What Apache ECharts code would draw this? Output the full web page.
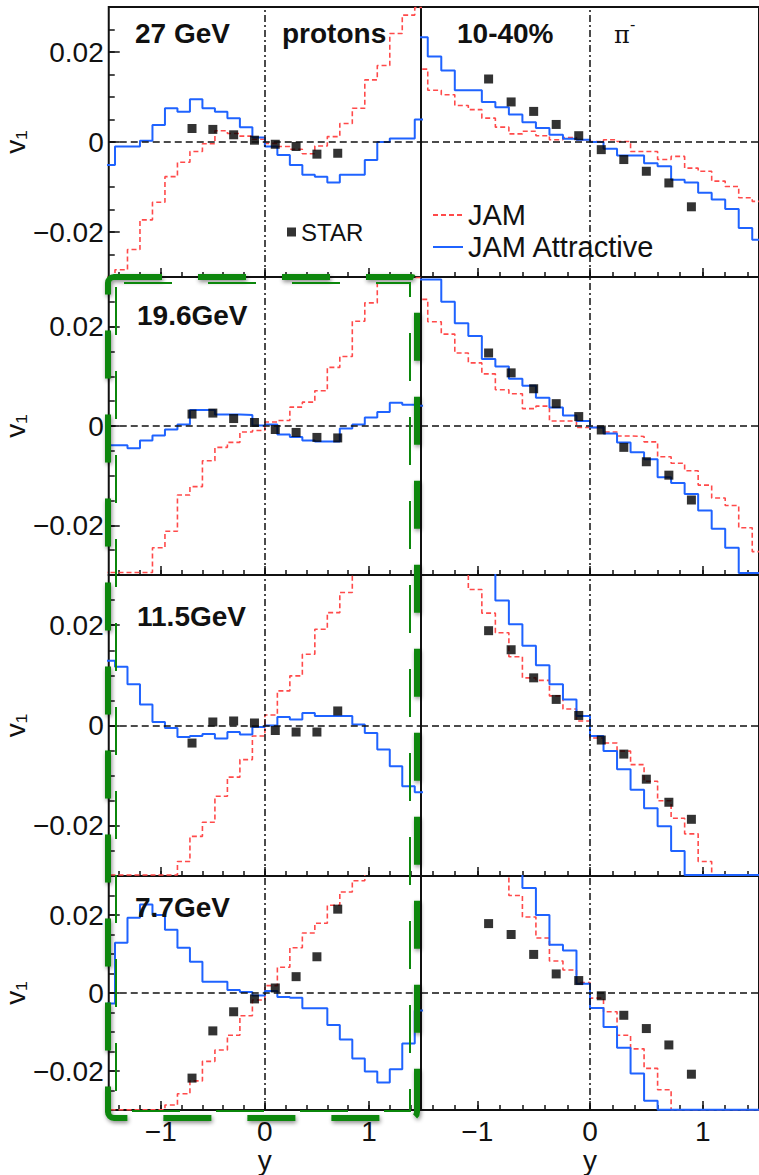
<!DOCTYPE html>
<html>
<head>
<meta charset="utf-8">
<title>v1 vs y, JAM vs STAR</title>
<script src="https://cdn.jsdelivr.net/npm/echarts@6/dist/echarts.min.js"></script>
<style>
	html, body { margin: 0; padding: 0; background: #fff; }
	#main { width: 759px; height: 1175px; }
</style>
</head>
<body>
<div id="main"></div>
<script>
// histogram bin edges in rapidity (0.12 wide)
var binEdges = [-1.56, -1.44, -1.32, -1.2, -1.08, -0.96, -0.84, -0.72, -0.6, -0.48, -0.36, -0.24, -0.12,
	0, 0.12, 0.24, 0.36, 0.48, 0.6, 0.72, 0.84, 0.96, 1.08, 1.2, 1.32, 1.44, 1.56];
var protonStarX = [-0.7, -0.5, -0.3, -0.1, 0.1, 0.3, 0.5, 0.7];
var pionStarX = [-0.9, -0.7, -0.5, -0.3, -0.1, 0.1, 0.3, 0.5, 0.7, 0.9];

// tick positions / labels
var xTickValues = [-1.4, -1.2, -1, -0.8, -0.6, -0.4, -0.2, 0, 0.2, 0.4, 0.6, 0.8, 1, 1.2, 1.4];
var xLabelValues = [-1, 0, 1];
var yTickValues = [-0.025, -0.02, -0.015, -0.01, -0.005, 0, 0.005, 0.01, 0.015, 0.02, 0.025];
var yLabelValues = [-0.02, 0, 0.02];

// 27 GeV
var jam27p = [-0.0299, -0.0284, -0.0239, -0.0173, -0.0134, -0.0077, -0.0045, -0.0021, -0.0004, 0.0025, 0.0019, 0.0013, 0.0006,
	-0.0003, -0.001, -0.0016, -0.0026, -0.0009, 0.0012, 0.0041, 0.0075, 0.0138, 0.017, 0.0241, 0.0282, 0.0299];
var att27p = [-0.0051, -0.001, -0.001, 0.0003, 0.0038, 0.0075, 0.0067, 0.0095, 0.0075, 0.0067, 0.0053, 0.0033, 0.001,
	-0.001, -0.0029, -0.0051, -0.0073, -0.0077, -0.009, -0.0073, -0.0073, -0.004, 0, 0.0008, 0.0008, 0.005];
var star27p = [0.003, 0.0028, 0.0016, 0.0004, -0.0005, -0.001, -0.0027, -0.0025];
var jam27pi = [0.0162, 0.0115, 0.0105, 0.0081, 0.0072, 0.0053, 0.0033, 0.0018, 0.0024, 0.0014, 0.0005, 0.001, 0.0005,
	0.0001, 0.0005, 0.0001, -0.0021, -0.0021, -0.0039, -0.0032, -0.0058, -0.0065, -0.0087, -0.0099, -0.0124, -0.0132];
var att27pi = [0.0233, 0.019, 0.0159, 0.0115, 0.0115, 0.0089, 0.0077, 0.0061, 0.0044, 0.0031, 0.0016, 0.0007, 0.0005,
	0, -0.0015, -0.003, -0.003, -0.0047, -0.0054, -0.0084, -0.009, -0.0113, -0.0128, -0.0149, -0.0191, -0.0217];
var star27pi = [0.014, 0.0089, 0.0068, 0.0039, 0.0014, -0.0017, -0.0039, -0.0065, -0.0091, -0.0144];

// 19.6 GeV
var jam19p = [-0.0295, -0.0295, -0.0295, -0.0295, -0.0245, -0.0212, -0.0139, -0.0122, -0.007, -0.0043, -0.0033, -0.0012, -0.0009,
	0.0008, 0.0011, 0.0038, 0.0048, 0.0071, 0.0118, 0.014, 0.0211, 0.0248, 0.0299, 0.0299, 0.0299, 0.0299];
var att19p = [-0.0039, -0.0039, -0.0045, -0.0029, -0.0019, -0.0007, 0.0003, 0.0032, 0.0032, 0.0023, 0.0023, 0.0022, 0.0001,
	0.0003, -0.0017, -0.0022, -0.0029, -0.0031, -0.0031, -0.0005, 0.0003, 0.0017, 0.0028, 0.0047, 0.0043, 0.0041];
var star19p = [0.0024, 0.0026, 0.0015, 0.0007, -0.0007, -0.0013, -0.0023, -0.0024];
var jam19pi = [0.0255, 0.021, 0.0185, 0.0147, 0.0127, 0.0105, 0.0073, 0.0065, 0.0035, 0.004, 0.001, 0.001, -0.0003,
	-0.0003, -0.0012, -0.002, -0.0021, -0.0032, -0.0062, -0.0075, -0.009, -0.0119, -0.0145, -0.016, -0.0205, -0.0253];
var att19pi = [0.0295, 0.0295, 0.025, 0.0207, 0.0181, 0.0135, 0.012, 0.0095, 0.0081, 0.0057, 0.0037, 0.0021, 0.001,
	-0.0003, -0.0015, -0.0033, -0.0053, -0.0067, -0.0103, -0.0115, -0.0137, -0.017, -0.0207, -0.0245, -0.0296, -0.0296];
var star19pi = [0.0147, 0.0107, 0.0075, 0.0045, 0.0019, -0.0008, -0.0043, -0.0072, -0.0099, -0.0149];

// 11.5 GeV
var jam11p = [-0.0298, -0.0298, -0.0298, -0.0298, -0.0298, -0.0298, -0.0271, -0.0221, -0.0193, -0.0141, -0.0103, -0.0068, -0.0021,
	0.0021, 0.0069, 0.0099, 0.0142, 0.0192, 0.0225, 0.0265, 0.032, 0.032, 0.032, 0.032, 0.032, 0.032];
var att11p = [0.0129, 0.0117, 0.0082, 0.0042, 0.0007, -0.0005, -0.0023, -0.0021, -0.0017, -0.0026, -0.0013, -0.0018, -0.0003,
	0, 0.0017, 0.0012, 0.0025, 0.0019, 0.0019, 0.0019, 0.0002, -0.0015, -0.0048, -0.0081, -0.0121, -0.0133];
var star11p = [-0.0035, 0.0007, 0.0009, 0.0005, -0.001, -0.0013, -0.0013, 0.0029];
var jam11pi = [0.032, 0.032, 0.032, 0.032, 0.0271, 0.0224, 0.0185, 0.0137, 0.0095, 0.009, 0.0059, 0.0033, 0.0009,
	-0.0025, -0.0035, -0.0051, -0.0078, -0.0111, -0.015, -0.0185, -0.0216, -0.0271, -0.0298, -0.0298, -0.0298, -0.0298];
var att11pi = [0.032, 0.032, 0.032, 0.032, 0.032, 0.032, 0.0249, 0.0202, 0.0159, 0.012, 0.0082, 0.0052, 0.0019,
	-0.0021, -0.0051, -0.0087, -0.0128, -0.0165, -0.0201, -0.025, -0.0298, -0.0298, -0.0298, -0.0298, -0.0298, -0.0298];
var star11pi = [0.0189, 0.0151, 0.0095, 0.0052, 0.002, -0.0029, -0.0057, -0.0107, -0.0153, -0.0187];

// 7.7 GeV
var jam7p = [-0.0299, -0.0299, -0.0299, -0.0299, -0.0299, -0.0287, -0.0258, -0.0225, -0.0175, -0.0146, -0.0108, -0.0058, -0.0018,
	0.0019, 0.0066, 0.0116, 0.0154, 0.0179, 0.0225, 0.0259, 0.0288, 0.032, 0.032, 0.032, 0.032, 0.032];
var att7p = [-0.0027, 0.0129, 0.0193, 0.0227, 0.02, 0.0162, 0.0116, 0.008, 0.0029, 0.0029, 0.0008, 0.0003, -0.0006,
	0.0005, -0.001, -0.0012, -0.0039, -0.0039, -0.0082, -0.0119, -0.0168, -0.0201, -0.0229, -0.0195, -0.0129, -0.0045];
var star7p = [-0.0218, -0.0097, -0.0048, -0.0015, 0.0013, 0.0042, 0.0093, 0.0215];
var jam7pi = [0.032, 0.032, 0.032, 0.032, 0.032, 0.032, 0.032, 0.025, 0.0195, 0.0141, 0.0082, 0.0059, 0.0027,
	-0.0013, -0.0048, -0.0108, -0.0143, -0.0193, -0.0248, -0.0299, -0.0299, -0.0299, -0.0299, -0.0299, -0.0299, -0.0299];
var att7pi = [0.032, 0.032, 0.032, 0.032, 0.032, 0.032, 0.032, 0.032, 0.0269, 0.02, 0.0124, 0.0109, 0.0024,
	-0.0038, -0.0087, -0.014, -0.0206, -0.0276, -0.0299, -0.0299, -0.0299, -0.0299, -0.0299, -0.0299, -0.0299, -0.0299];
var star7pi = [0.0178, 0.015, 0.0099, 0.0049, 0.0032, -0.0007, -0.0057, -0.0091, -0.0133, -0.0208];

var panels = [
	{ jam: jam27p, att: att27p, star: star27p, starX: protonStarX },
	{ jam: jam27pi, att: att27pi, star: star27pi, starX: pionStarX },
	{ jam: jam19p, att: att19p, star: star19p, starX: protonStarX },
	{ jam: jam19pi, att: att19pi, star: star19pi, starX: pionStarX },
	{ jam: jam11p, att: att11p, star: star11p, starX: protonStarX },
	{ jam: jam11pi, att: att11pi, star: star11pi, starX: pionStarX },
	{ jam: jam7p, att: att7p, star: star7p, starX: protonStarX },
	{ jam: jam7pi, att: att7pi, star: star7pi, starX: pionStarX }
];

// layout (pixels)
var colLeft = [104, 421];
var colWidth = [317, 344];
var rowTop = [7, 277, 575, 876];
var rowHeight = [270, 298, 301, 240];

var FONT = 'Liberation Sans, Arial, Helvetica, sans-serif';
var RED = '#ff4a4a';
var BLUE = '#1f63ff';
var INK = '#111';

function stepData(vals) {
	var pts = [];
	for (var i = 0; i < binEdges.length; i++) {
		pts.push([binEdges[i], vals[Math.min(i, vals.length - 1)]]);
	}
	return pts;
}

function pointData(xs, ys) {
	return xs.map(function (x, i) { return [x, ys[i]]; });
}

function minusFmt(v) {
	return v < 0 ? '\u2212' + Math.abs(v) : String(v);
}

var grids = [], xAxes = [], yAxes = [], series = [];

for (var i = 0; i < panels.length; i++) {
	var row = Math.floor(i / 2);
	var col = i % 2;
	var bottom = row === 3;
	var p = panels[i];

	grids.push({
		left: colLeft[col], top: rowTop[row], width: colWidth[col], height: rowHeight[row],
		show: true, borderColor: INK, borderWidth: 2
	});

	// minor ticks + labels
	xAxes.push({
		gridIndex: i, type: 'value', min: -1.5, max: 1.5, position: 'bottom',
		axisLine: { show: false, onZero: false }, splitLine: { show: false },
		axisTick: { show: true, inside: true, length: 5, customValues: xTickValues, lineStyle: { color: INK, width: 1.5 } },
		axisLabel: {
			show: bottom, customValues: xLabelValues, formatter: minusFmt, margin: 7,
			fontSize: 28, fontFamily: FONT, color: INK
		},
		name: bottom ? 'y' : '', nameLocation: 'middle', nameGap: 30,
		nameTextStyle: { fontSize: 28, fontFamily: FONT, color: INK }
	});
	// major ticks
	xAxes.push({
		gridIndex: i, type: 'value', min: -1.5, max: 1.5, position: 'bottom', offset: 0,
		axisLine: { show: false, onZero: false }, splitLine: { show: false }, axisLabel: { show: false },
		axisTick: { show: true, inside: true, length: 9, customValues: xLabelValues, lineStyle: { color: INK, width: 1.5 } }
	});

	yAxes.push({
		gridIndex: i, type: 'value', min: -0.03, max: 0.03, position: 'left',
		axisLine: { show: false, onZero: false }, splitLine: { show: false },
		axisTick: { show: col === 0, inside: true, length: 6, customValues: yTickValues, lineStyle: { color: INK, width: 1.5 } },
		axisLabel: {
			show: col === 0, customValues: yLabelValues, formatter: minusFmt, margin: 5,
			fontSize: 28, fontFamily: FONT, color: INK
		},
		name: col === 0 ? 'v\u2081' : '', nameLocation: 'middle', nameRotate: 90, nameGap: 62,
		nameTextStyle: { fontSize: 28, fontFamily: FONT, color: INK }
	});
	yAxes.push({
		gridIndex: i, type: 'value', min: -0.03, max: 0.03, position: 'left', offset: 0,
		axisLine: { show: false, onZero: false }, splitLine: { show: false }, axisLabel: { show: false },
		axisTick: { show: col === 0, inside: true, length: 11, customValues: yLabelValues, lineStyle: { color: INK, width: 1.5 } }
	});

	series.push({
		name: 'JAM', type: 'line', xAxisIndex: 2 * i, yAxisIndex: 2 * i,
		data: stepData(p.jam), step: 'end', symbol: 'none', z: 2,
		lineStyle: { color: RED, width: 1.6, type: [5, 3] }, itemStyle: { color: RED },
		markLine: {
			silent: true, symbol: ['none', 'none'], label: { show: false },
			lineStyle: { color: INK, width: 1.5 },
			data: [
				{ yAxis: 0, lineStyle: { type: [7, 4], color: INK, width: 1.5 } },
				{ xAxis: 0, lineStyle: { type: [7, 3, 2, 3], color: INK, width: 1.5 } }
			]
		}
	});
	series.push({
		name: 'JAM Attractive', type: 'line', xAxisIndex: 2 * i, yAxisIndex: 2 * i,
		data: stepData(p.att), step: 'end', symbol: 'none', z: 3,
		lineStyle: { color: BLUE, width: 2 }, itemStyle: { color: BLUE }
	});
	series.push({
		name: 'STAR', type: 'scatter', xAxisIndex: 2 * i, yAxisIndex: 2 * i,
		data: pointData(p.starX, p.star), symbol: 'rect', symbolSize: 9, z: 4,
		itemStyle: { color: '#000' }
	});
}

function label(txt, x, y, size, weight, family) {
	return {
		type: 'text', x: x, y: y, z: 50,
		style: {
			text: txt, fontSize: size, fontWeight: weight || 'normal', fontFamily: family || FONT,
			fill: INK, align: 'left', verticalAlign: 'middle'
		}
	};
}

var greenBox = [
	{
		type: 'rect', z: 60,
		shape: { x: 108, y: 277, width: 309, height: 841, r: 6 },
		style: {
			fill: 'none', stroke: '#0b870b', lineWidth: 6, lineDash: [48, 36],
			shadowBlur: 4, shadowColor: 'rgba(0,0,0,0.45)', shadowOffsetX: 1, shadowOffsetY: 2
		}
	},
	{
		type: 'rect', z: 60,
		shape: { x: 116, y: 283, width: 294, height: 828 },
		style: { fill: 'none', stroke: '#0b870b', lineWidth: 2, lineDash: [48, 36], lineDashOffset: -8 }
	}
];

var option = {
	backgroundColor: '#fff',
	animation: false,
	grid: grids,
	xAxis: xAxes,
	yAxis: yAxes,
	series: series,
	legend: [
		{
			data: ['STAR'], left: 287, top: 220, padding: 0,
			itemWidth: 9, itemHeight: 9, selectedMode: false,
			textStyle: { fontSize: 24, fontFamily: FONT, color: INK, lineHeight: 24 }
		},
		{
			data: ['JAM', 'JAM Attractive'], orient: 'vertical', left: 432, top: 200, padding: 0,
			itemWidth: 30, itemHeight: 14, itemGap: 2, selectedMode: false,
			itemStyle: { opacity: 0 },
			textStyle: { fontSize: 29, fontFamily: FONT, color: INK, lineHeight: 30 }
		}
	],
	graphic: [
		label('27 GeV', 135, 33, 28, 'bold'),
		label('protons', 282, 33, 28, 'bold'),
		label('10-40%', 457, 33, 28, 'bold'),
		label('\u03c0', 614, 35, 24, 'normal', 'DejaVu Serif, serif'),
		label('-', 630, 24, 16),
		label('19.6GeV', 137, 315, 28, 'bold'),
		label('11.5GeV', 137, 616, 28, 'bold'),
		label('7.7GeV', 135, 907, 28, 'bold')
	].concat(greenBox)
};

var chart = echarts.init(document.getElementById('main'), null, { renderer: 'svg' });
chart.setOption(option);
</script>
</body>
</html>
